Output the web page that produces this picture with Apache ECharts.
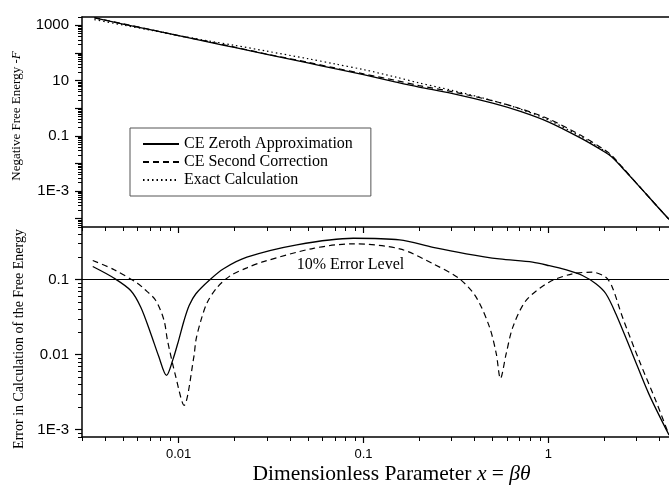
<!DOCTYPE html>
<html>
<head>
<meta charset="utf-8">
<script src="https://cdn.jsdelivr.net/npm/echarts@6/dist/echarts.min.js"></script>
<style>
  html, body { margin: 0; padding: 0; background: #fff; }
  #chart { width: 669px; height: 486px; }
</style>
</head>
<body>
<div id="chart"></div>
<script>
// upper panel: negative free energy -F
const xFree = [0.0035, 0.005, 0.007, 0.01, 0.015, 0.02, 0.03, 0.05, 0.07, 0.1, 0.15, 0.2, 0.3, 0.5, 0.7, 1, 1.5, 2, 2.2, 2.5, 3, 3.5, 4, 4.5];
const freeZeroth = [1845, 1114, 693, 420, 237, 158, 89, 43.4, 27, 16.3, 8.8, 5.8, 3.45, 1.52, 0.78, 0.32, 0.082, 0.027, 0.0174, 0.0073, 0.0019, 0.00061, 0.000225, 0.000095];
const freeSecond = [1890, 1134, 713, 425, 247, 164, 91, 46, 28.7, 17.5, 10.1, 6.6, 3.99, 1.86, 0.978, 0.413, 0.104, 0.032, 0.0197, 0.0077, 0.00194, 0.00061, 0.000225, 0.000095];
const freeExact = [1610, 1022, 673, 425, 263, 190, 116, 62, 40, 25, 13.3, 8.2, 4.48, 1.88, 0.945, 0.378, 0.0927, 0.029, 0.0182, 0.0075, 0.00193, 0.00061, 0.000225, 0.000095];

// lower panel: relative error
const xErrZeroth = [0.00343, 0.00448, 0.0055, 0.00624, 0.00707, 0.0078, 0.0086, 0.0093, 0.01, 0.0107, 0.0114, 0.0124, 0.0146, 0.0175, 0.0234, 0.0436, 0.088, 0.157, 0.238, 0.36, 0.544, 0.822, 1.01, 1.24, 1.53, 1.81, 2.05, 2.32, 2.85, 3.5, 4.5];
const errZeroth = [0.149, 0.104, 0.0714, 0.0428, 0.019, 0.0095, 0.00528, 0.0085, 0.0155, 0.0285, 0.0451, 0.0646, 0.097, 0.139, 0.198, 0.289, 0.354, 0.337, 0.268, 0.22, 0.188, 0.17, 0.153, 0.135, 0.113, 0.0877, 0.0646, 0.035, 0.0103, 0.003, 0.00085];
const xErrSecond = [0.00343, 0.00448, 0.00598, 0.0065, 0.00752, 0.00834, 0.0087, 0.00964, 0.0107, 0.0121, 0.0124, 0.0132, 0.0143, 0.0162, 0.0191, 0.0234, 0.0288, 0.0536, 0.088, 0.157, 0.238, 0.331, 0.407, 0.481, 0.523, 0.551, 0.592, 0.643, 0.759, 1.01, 1.35, 1.73, 2.05, 2.22, 2.52, 3.1, 3.8, 4.5];
const errSecond = [0.179, 0.135, 0.0893, 0.0752, 0.0526, 0.0285, 0.0155, 0.00513, 0.00211, 0.00946, 0.0155, 0.0285, 0.0499, 0.079, 0.113, 0.143, 0.173, 0.26, 0.299, 0.256, 0.162, 0.102, 0.0582, 0.0232, 0.0103, 0.00479, 0.0103, 0.0232, 0.0526, 0.092, 0.119, 0.125, 0.107, 0.079, 0.0316, 0.0084, 0.0025, 0.00085];
const errorLevel = 0.1;

// tick values
const xLabels = [0.01, 0.1, 1];
const freeLabels = [0.001, 0.1, 10, 1000];
const freeDecades = [0.0001, 0.001, 0.01, 0.1, 1, 10, 100, 1000];
const errLabels = [0.001, 0.01, 0.1];

function minorTicks(loExp, hiExp, lo, hi) {
  const out = [];
  for (let e = loExp; e <= hiExp; e++) {
    for (let m = 2; m <= 9; m++) {
      const v = +(m * Math.pow(10, e)).toPrecision(3);
      if (v >= lo && v <= hi) out.push(v);
    }
  }
  return out;
}
const xMinor = minorTicks(-3, 0, 0.003, 4.5);
const freeMinor = minorTicks(-5, 3, 5e-5, 2000);
const errMinor = minorTicks(-4, -1, 8e-4, 0.5);

function pairs(xs, ys) { return xs.map((x, i) => [x, ys[i]]); }
function fmtLog(v) { return v < 0.005 && v > 0.0005 ? '1E-3' : String(+v.toPrecision(2)); }

const sans = 'Liberation Sans';
const serif = 'Liberation Serif';
const axisLineStyle = { show: true, onZero: false, lineStyle: { color: '#000', width: 1.5 } };
const noLine = { show: false, onZero: false };

function xAx(grid, position, opts) {
  return Object.assign({
    type: 'log', gridIndex: grid, position: position, min: 0.003, max: 4.5,
    splitLine: { show: false }, axisLine: noLine,
    axisTick: { show: false }, axisLabel: { show: false }
  }, opts);
}
function yAx(grid, min, max, opts) {
  return Object.assign({
    type: 'log', gridIndex: grid, position: 'left', min: min, max: max,
    splitLine: { show: false }, axisLine: noLine,
    axisTick: { show: false }, axisLabel: { show: false }
  }, opts);
}

const chart = echarts.init(document.getElementById('chart'), null, { renderer: 'canvas' });

const lineSolid = { color: '#000', width: 1.3, type: 'solid' };
const lineDashed = { color: '#000', width: 1.2, type: [6, 4] };
const lineDotted = { color: '#000', width: 1.2, type: [1.5, 3] };

const option = {
  animation: false,
  backgroundColor: '#fff',
  grid: [
    { left: 82, right: 0, top: 17, height: 210 },
    { left: 82, right: 0, top: 227, height: 210 }
  ],
  legend: {
    orient: 'vertical', left: 130, top: 128,
    data: ['CE Zeroth Approximation', 'CE Second Correction', 'Exact Calculation'],
    itemWidth: 36, itemHeight: 12, itemGap: 2,
    padding: [8, 18, 8, 12],
    borderColor: '#555', borderWidth: 1,
    itemStyle: { opacity: 0 },
    textStyle: { fontFamily: serif, fontSize: 16, color: '#000' }
  },
  xAxis: [
    // upper grid bottom: line + major ticks
    xAx(0, 'bottom', { axisLine: axisLineStyle, axisTick: { show: true, inside: false, length: 6, customValues: xLabels, lineStyle: { color: '#000', width: 1.2 } } }),
    xAx(0, 'bottom', { axisTick: { show: true, inside: false, length: 4, customValues: xMinor, lineStyle: { color: '#000', width: 1 } } }),
    // upper grid top frame
    xAx(0, 'top', { axisLine: axisLineStyle }),
    // lower grid bottom: line, major ticks, labels, title
    xAx(1, 'bottom', {
      axisLine: axisLineStyle,
      axisTick: { show: true, inside: false, length: 6, customValues: xLabels, lineStyle: { color: '#000', width: 1.2 } },
      axisLabel: { show: true, customValues: xLabels, formatter: fmtLog, margin: 11, fontFamily: sans, fontSize: 13, color: '#000' },
      name: '{n|Dimensionless Parameter }{i|x}{n| = }{i|βθ}',
      nameLocation: 'middle', nameGap: 26,
      nameTextStyle: {
        padding: [0, 0, 0, 32],
        rich: {
          n: { fontFamily: serif, fontSize: 21.5, color: '#000' },
          i: { fontFamily: serif, fontSize: 21.5, fontStyle: 'italic', color: '#000' }
        }
      }
    }),
    xAx(1, 'bottom', { axisTick: { show: true, inside: false, length: 4, customValues: xMinor, lineStyle: { color: '#000', width: 1 } } })
  ],
  yAxis: [
    yAx(0, 5e-5, 2000, {
      axisLine: axisLineStyle,
      axisTick: { show: true, inside: false, length: 7, customValues: freeDecades, lineStyle: { color: '#000', width: 1.2 } },
      axisLabel: { show: true, customValues: freeLabels, formatter: fmtLog, margin: 13, fontFamily: sans, fontSize: 15, color: '#000' },
      name: '{n|Negative Free Energy -}{i|F}',
      nameLocation: 'middle', nameGap: 59,
      nameTextStyle: {
        padding: [0, 0, 0, 12],
        rich: {
          n: { fontFamily: serif, fontSize: 13, color: '#000' },
          i: { fontFamily: serif, fontSize: 13, fontStyle: 'italic', color: '#000' }
        }
      }
    }),
    yAx(0, 5e-5, 2000, { axisTick: { show: true, inside: false, length: 4, customValues: freeMinor, lineStyle: { color: '#000', width: 1 } } }),
    yAx(1, 8e-4, 0.5, {
      axisLine: axisLineStyle,
      axisTick: { show: true, inside: false, length: 7, customValues: errLabels, lineStyle: { color: '#000', width: 1.2 } },
      axisLabel: { show: true, customValues: errLabels, formatter: fmtLog, margin: 13, fontFamily: sans, fontSize: 15, color: '#000' },
      name: 'Error in Calculation of the Free Energy',
      nameLocation: 'middle', nameGap: 52,
      nameTextStyle: { fontFamily: serif, fontSize: 14, color: '#000', padding: [0, 14, 0, 0] }
    }),
    yAx(1, 8e-4, 0.5, { axisTick: { show: true, inside: false, length: 4, customValues: errMinor, lineStyle: { color: '#000', width: 1 } } })
  ],
  series: [
    {
      name: 'CE Zeroth Approximation', type: 'line', xAxisIndex: 0, yAxisIndex: 0,
      data: pairs(xFree, freeZeroth), symbol: 'none', smooth: 0.3,
      lineStyle: lineSolid, itemStyle: { color: '#000' }
    },
    {
      name: 'CE Second Correction', type: 'line', xAxisIndex: 0, yAxisIndex: 0,
      data: pairs(xFree, freeSecond), symbol: 'none', smooth: 0.3,
      lineStyle: lineDashed, itemStyle: { color: '#000' }
    },
    {
      name: 'Exact Calculation', type: 'line', xAxisIndex: 0, yAxisIndex: 0,
      data: pairs(xFree, freeExact), symbol: 'none', smooth: 0.3,
      lineStyle: lineDotted, itemStyle: { color: '#000' }
    },
    {
      name: 'CE Zeroth Approximation', type: 'line', xAxisIndex: 3, yAxisIndex: 2,
      data: pairs(xErrZeroth, errZeroth), symbol: 'none', smooth: 0.3,
      lineStyle: lineSolid, itemStyle: { color: '#000' },
      markLine: {
        silent: true, symbol: 'none',
        lineStyle: { color: '#000', type: 'solid', width: 1.1 },
        label: {
          show: true, position: 'insideMiddleTop', formatter: '10% Error Level',
          fontFamily: serif, fontSize: 16, color: '#000', distance: 7, padding: [0, 50, 0, 0]
        },
        data: [{ yAxis: errorLevel }]
      }
    },
    {
      name: 'CE Second Correction', type: 'line', xAxisIndex: 3, yAxisIndex: 2,
      data: pairs(xErrSecond, errSecond), symbol: 'none', smooth: 0.3,
      lineStyle: lineDashed, itemStyle: { color: '#000' }
    }
  ]
};

chart.setOption(option);
</script>
</body>
</html>
